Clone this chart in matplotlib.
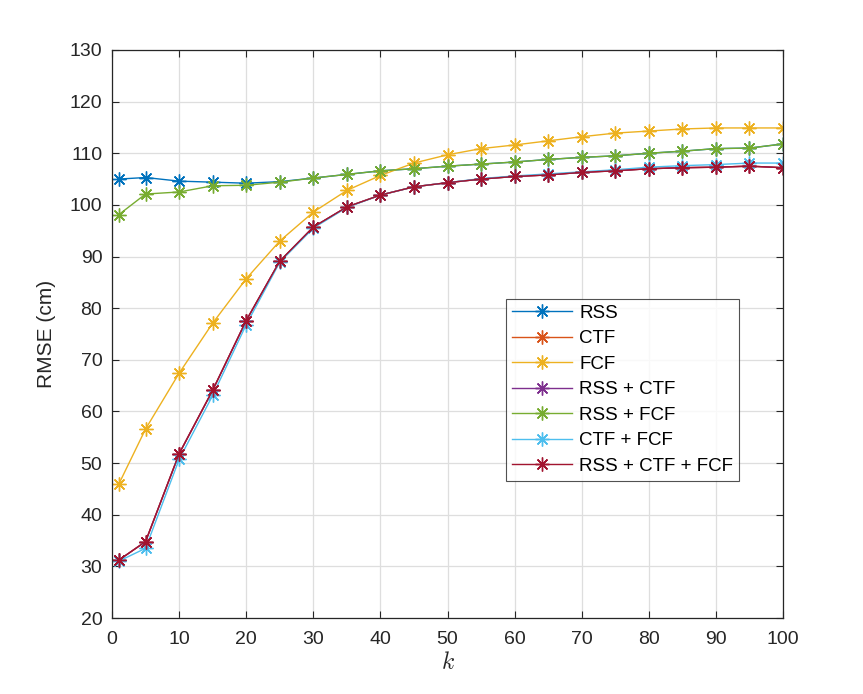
import matplotlib
matplotlib.use("Agg")
import matplotlib.pyplot as plt

k = [1, 5, 10, 15, 20, 25, 30, 35, 40, 45, 50, 55, 60, 65, 70, 75, 80, 85, 90, 95, 100]

rss = [105.0, 105.3, 104.6, 104.4, 104.2, 104.5, 105.2, 105.9, 106.6, 107.0, 107.5,
       107.9, 108.3, 108.8, 109.2, 109.5, 110.0, 110.4, 110.9, 111.0, 111.8]
rss_ctf_fcf = [31.2, 34.8, 51.8, 64.1, 77.6, 89.1, 95.7, 99.6, 101.9, 103.5, 104.3,
               105.0, 105.5, 105.8, 106.3, 106.6, 107.0, 107.2, 107.3, 107.5, 107.2]
ctf = list(rss_ctf_fcf)
fcf = [45.9, 56.6, 67.4, 77.1, 85.7, 93.0, 98.6, 102.8, 105.7, 108.1, 109.7,
       110.9, 111.6, 112.4, 113.2, 113.9, 114.3, 114.7, 114.9, 114.9, 114.9]
rss_ctf = list(rss_ctf_fcf)
rss_fcf = [98.1, 102.1, 102.5, 103.7, 103.8, 104.4, 105.2, 105.9, 106.6, 107.0, 107.5,
           107.9, 108.3, 108.8, 109.2, 109.5, 110.0, 110.4, 110.9, 111.0, 111.8]
ctf_fcf = [31.0, 33.5, 50.7, 63.1, 76.8, 88.9, 95.5, 99.5, 101.9, 103.5, 104.3,
           105.1, 105.6, 106.0, 106.4, 106.8, 107.3, 107.6, 107.8, 108.1, 108.1]

labels = ["RSS", "CTF", "FCF", "RSS + CTF", "RSS + FCF", "CTF + FCF", "RSS + CTF + FCF"]
series = [rss, ctf, fcf, rss_ctf, rss_fcf, ctf_fcf, rss_ctf_fcf]
colors = [(0, 0.447, 0.741), (0.85, 0.325, 0.098), (0.929, 0.694, 0.125),
          (0.494, 0.184, 0.556), (0.466, 0.674, 0.188), (0.301, 0.745, 0.933),
          (0.635, 0.078, 0.184)]

plt.rcParams['font.family'] = ['Liberation Sans', 'DejaVu Sans']
plt.rcParams['mathtext.fontset'] = 'cm'

dark = (0.15, 0.15, 0.15)
fig = plt.figure(figsize=(8.63, 6.94), dpi=100)
ax = fig.add_axes([0.1298, 0.1095, 0.7775, 0.8185])

for s, lab, c in zip(series, labels, colors):
    ax.plot(k, s, color=c, lw=1.0, marker=(8, 2, 0), markersize=10,
            markeredgewidth=1.0, label=lab)

ax.set_xlim(0, 100)
ax.set_ylim(20, 130)
ax.set_xticks(range(0, 101, 10))
ax.set_yticks(range(20, 131, 10))
ax.grid(True, color=(0.87, 0.87, 0.87), lw=0.9)
ax.set_axisbelow(True)
ax.tick_params(direction='in', top=True, right=True, length=5, width=0.8,
               colors=dark, labelsize=14, labelcolor=dark)
ax.tick_params(axis='y', pad=7)
ax.tick_params(axis='x', pad=9)
for sp in ax.spines.values():
    sp.set_color(dark)
    sp.set_linewidth(0.9)

ax.set_ylabel("RMSE (cm)", fontsize=15, color=dark, labelpad=10)
ax.set_xlabel("$k$", fontsize=17, color=dark, labelpad=3)

leg = ax.legend(loc='upper left', bbox_to_anchor=(0.587, 0.562), fontsize=13.5,
                frameon=True, fancybox=False, edgecolor=dark,
                handlelength=3.2, borderpad=0.3, labelspacing=0.45,
                handletextpad=0.4, borderaxespad=0)
leg.get_frame().set_linewidth(0.8)

fig.savefig("out.png", dpi=100)
